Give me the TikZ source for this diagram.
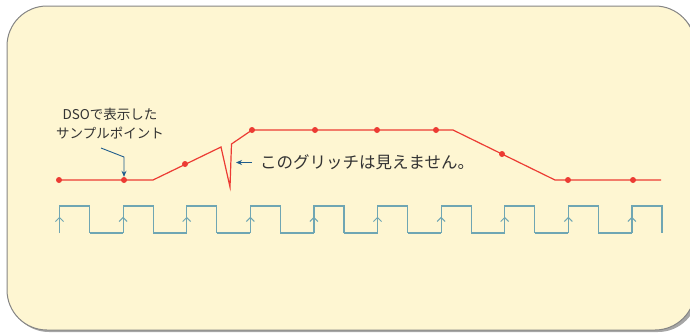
\documentclass[tikz,border=0pt]{standalone}
\usepackage{fontspec}
\setmainfont{Noto Sans CJK JP}
\usetikzlibrary{arrows.meta}

\definecolor{panelbg}{HTML}{FEF6D2}
\definecolor{panelline}{HTML}{858585}
\definecolor{sigred}{HTML}{EC3B33}
\definecolor{clkteal}{HTML}{6FA6B3}
\definecolor{notearrow}{HTML}{1E5C8C}
\definecolor{notetext}{HTML}{333333}

\tikzset{
  sample/.style={circle, fill=sigred, inner sep=0pt, minimum size=6pt},
  note/.style={text=notetext, font=\fontsize{13.5pt}{19pt}\selectfont, inner sep=0pt},
  pointer/.style={draw=notearrow, line width=0.9pt, -{Stealth[length=6pt,width=5pt]}},
}

\begin{document}
\begin{tikzpicture}[x=1pt, y=-1pt]
\useasboundingbox (0,0) rectangle (690,333);
%Panel
\fill[black!35, rounded corners=40pt] (9,9) rectangle (698,332);
\draw[fill=panelbg, draw=panelline, line width=1pt, rounded corners=40pt]
    (7,6) rectangle (695,330);

%Clock
\foreach \k in {0,...,9}{
  \draw[clkteal, line width=1.2pt] ({59.5+63.6*\k},233) -- ({59.5+63.6*\k},206)
      -- ({89.5+63.6*\k},206) -- ({89.5+63.6*\k},233);
  \draw[clkteal, line width=1pt] ({55.5+63.6*\k},221.5) -- ({59.5+63.6*\k},217.5)
      -- ({63.5+63.6*\k},221.5);
}
\foreach \k in {0,...,8}
  \draw[clkteal, line width=1.2pt] ({89.5+63.6*\k},233) -- ({123.1+63.6*\k},233);

%Signal
\draw[sigred, line width=1.2pt] (59,180) -- (153,180) -- (221,147) -- (230,187)
    -- (231.5,144) -- (252,130) -- (453,130) -- (555,180) -- (661,180);

%Nodes
\node[sample] (s1)  at (59,180)  {};
\node[sample] (s2)  at (124,180) {};
\node[sample] (s3)  at (185,164) {};
\node[sample] (s4)  at (252,130) {};
\node[sample] (s5)  at (315,130) {};
\node[sample] (s6)  at (377,130) {};
\node[sample] (s7)  at (436,130) {};
\node[sample] (s8)  at (502,154) {};
\node[sample] (s9)  at (568,180) {};
\node[sample] (s10) at (633,180) {};

\node[note, align=center] (dso) at (110,124) {DSOで表示した\\サンプルポイント};
\node[note, anchor=west, font=\fontsize{16.5pt}{19pt}\selectfont]
    (glitch) at (260,162.5) {このグリッチは見えません。};
\coordinate (tail) at (101,148);
\coordinate (bend) at (124,157);
\coordinate (gtail) at (252,162.5);
\coordinate (gtip) at (236,162.5);

%Lines
\draw[pointer] (tail) -- (bend) -- (s2.north);
\draw[pointer] (gtail) -- (gtip);
\end{tikzpicture}
\end{document}
